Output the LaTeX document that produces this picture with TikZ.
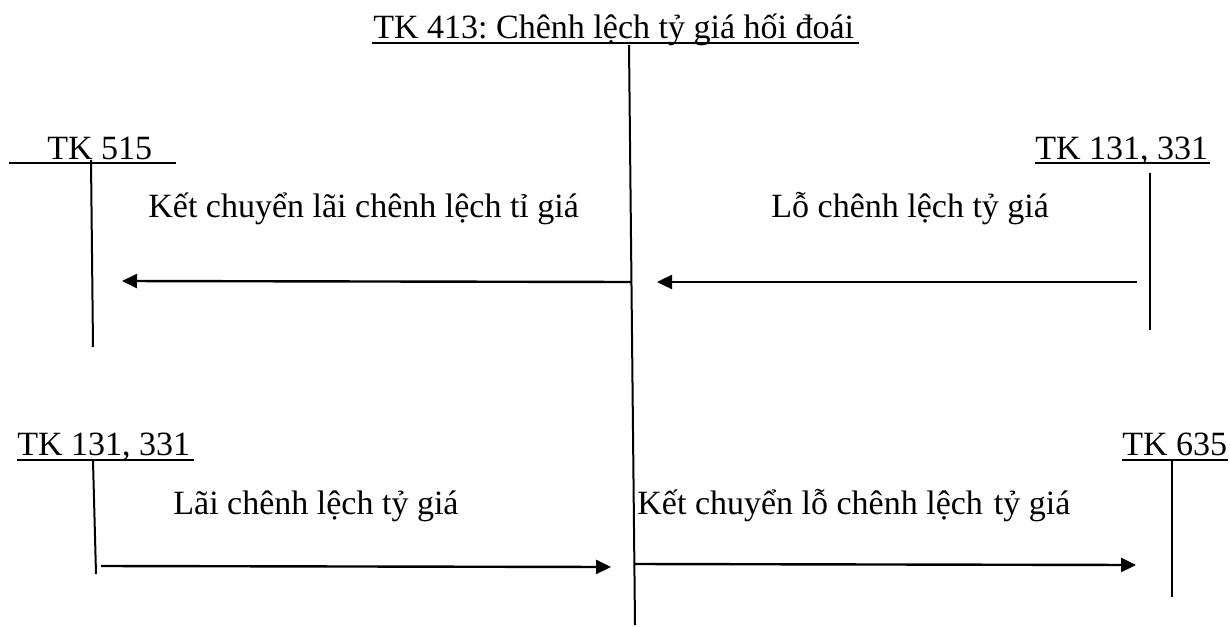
\documentclass[tikz,border=0pt]{standalone}
\usepackage{fontspec}
\setmainfont{Liberation Serif}
\usetikzlibrary{arrows.meta}
\frenchspacing
\begin{document}
\begin{tikzpicture}[x=0.5pt,y=-0.5pt,
  lbl/.style={inner sep=0pt,anchor=base west,font=\fontsize{17}{20}\selectfont},
  acct/.style={line width=1pt},
  uline/.style={line width=1.2pt},
  flow/.style={line width=1.2pt,-{Triangle[length=7.5pt,width=7pt]}}]
\useasboundingbox (0,0) rectangle (1230,626);

% title and main T-account of TK 413
\node[lbl] (title) at (373,39) {TK 413: Chênh lệch tỷ giá hối đoái};
\draw[uline] (372,43) -- (859,43);
\coordinate (mtop) at (629,45);
\coordinate (mbot) at (635,625);
\draw[acct] (mtop) -- (mbot);

% upper left: TK 515
\node[lbl] (tk515) at (47,159) {TK 515};
\draw[uline] (9,163) -- (176,163);
\draw[acct] (91,160) -- (93,347);

% upper right: TK 131, 331
\node[lbl] (tkR) at (1035,159) {TK 131, 331};
\draw[uline] (1035,163) -- (1210,163);
\draw[acct] (1150,173) -- (1150,330);

% lower left: TK 131, 331
\node[lbl] (tkL) at (17,455) {TK 131, 331};
\draw[uline] (17,460) -- (194,460);
\draw[acct] (93,461) -- (96,574);

% lower right: TK 635
\node[lbl] (tk635) at (1122,455) {TK 635};
\draw[uline] (1122,460) -- (1228,460);
\draw[acct] (1172,461) -- (1172,597);

% flows and their labels
\coordinate (a1s) at (631,282);
\coordinate (a1e) at (122,281);
\draw[flow] (a1s) -- (a1e);
\node[lbl] (l1) at (148,217) {Kết chuyển lãi chênh lệch tỉ giá};

\coordinate (a2s) at (1137,282);
\coordinate (a2e) at (657,282);
\draw[flow] (a2s) -- (a2e);
\node[lbl] (l2) at (771,217) {Lỗ chênh lệch tỷ giá};

\coordinate (a3s) at (101,566);
\coordinate (a3e) at (611,567);
\draw[flow] (a3s) -- (a3e);
\node[lbl] (l3) at (173,514) {Lãi chênh lệch tỷ giá};

\coordinate (a4s) at (634,564);
\coordinate (a4e) at (1136,565);
\draw[flow] (a4s) -- (a4e);
\node[lbl] (l4) at (637,514) {Kết chuyển lỗ chênh lệch\hspace{5.5pt}tỷ giá};
\end{tikzpicture}
\end{document}
